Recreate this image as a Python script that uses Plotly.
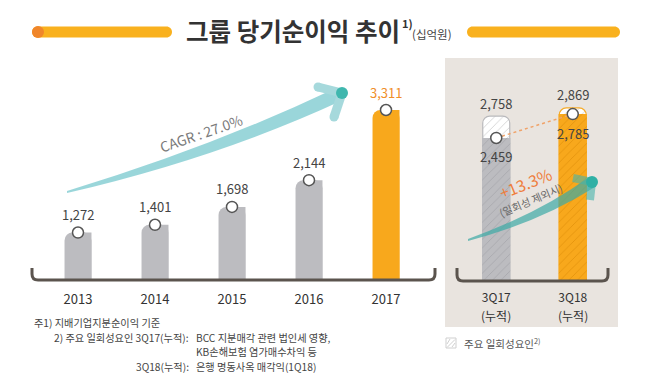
import plotly.graph_objects as go

# ---------------- data ----------------
years = ['2013', '2014', '2015', '2016', '2017']
net_income = [1272, 1401, 1698, 2144, 3311]
periods = ['3Q17', '3Q18']
period_sub = ['(누적)', '(누적)']
incl_one_off = [2758, 2869]
excl_one_off = [2459, 2785]
cagr_label = 'CAGR : 27.0%'
growth_label = '+13.3%'
growth_note = '(일회성 제외시)'
title_text = '그룹 당기순이익 추이'
unit_text = '(십억원)'
legend_text = '주요 일회성요인<sup>2)</sup>'

W, H = 650, 384
FONT = 'Noto Sans CJK KR, Noto Sans, sans-serif'
GRAY = '#bcbcc0'
ORANGE = '#f8a81c'
period_fill = [GRAY, ORANGE]
period_hatch = ['#a9a9ae', '#e5950f']
period_edge = ['#b9b9bc', '#f5ab2a']


def X(x):
    return x / W


def Y(y):
    return 1 - y / H


def path(cmds):
    out = []
    for c in cmds:
        op, vals = c[0], c[1:]
        pts = []
        for i in range(0, len(vals), 2):
            pts.append(f'{X(vals[i]):.5f},{Y(vals[i+1]):.5f}')
        out.append(op + ' ' + ' '.join(pts))
    return ' '.join(out)


def rrect(x0, y0, x1, y1, r):
    k = 0.5523 * r
    return path([
        ('M', x0 + r, y0), ('L', x1 - r, y0),
        ('C', x1 - r + k, y0, x1, y0 + r - k, x1, y0 + r),
        ('C', x1, y1 - r + k, x1 - r + k, y1, x1 - r, y1),
        ('L', x0 + r, y1),
        ('C', x0 + r - k, y1, x0, y1 - r + k, x0, y1 - r),
        ('C', x0, y0 + r - k, x0 + r - k, y0, x0 + r, y0),
    ]) + ' Z'


fig = go.Figure()

# ---------------- left chart ----------------
left_colors = [ORANGE if i == len(years) - 1 else GRAY for i in range(len(years))]
fig.add_trace(go.Bar(x=years, y=net_income, width=0.35, marker=dict(color=left_colors, cornerradius=8, line=dict(width=0)),
                     xaxis='x', yaxis='y', showlegend=False, hoverinfo='skip'))
fig.add_trace(go.Bar(x=years, y=net_income, width=0.175, offset=0, marker=dict(color=left_colors, line=dict(width=0)),
                     xaxis='x', yaxis='y', showlegend=False, hoverinfo='skip'))
fig.add_trace(go.Scatter(x=years, y=net_income, mode='markers',
                         marker=dict(size=11, color='white', line=dict(color='#555555', width=1.5)),
                         xaxis='x', yaxis='y', showlegend=False, hoverinfo='skip'))

# ---------------- right chart ----------------
for i, p in enumerate(periods):
    fig.add_trace(go.Bar(x=[p], y=[incl_one_off[i]], width=0.353,
                         marker=dict(color='white', cornerradius=7,
                                     line=dict(color=period_edge[i], width=1.2),
                                     pattern=dict(shape='/', fgcolor='#c9c9c9', bgcolor='white', size=6,
                                                  solidity=0.12, fillmode='replace')),
                         xaxis='x2', yaxis='y2', showlegend=False, hoverinfo='skip'))
for i, p in enumerate(periods):
    fig.add_trace(go.Bar(x=[p], y=[excl_one_off[i]], width=0.37,
                         marker=dict(color=period_fill[i], line=dict(width=0),
                                     pattern=dict(shape='/', fgcolor=period_hatch[i], bgcolor=period_fill[i],
                                                  size=6, solidity=0.15, fillmode='replace')),
                         xaxis='x2', yaxis='y2', showlegend=False, hoverinfo='skip'))
fig.add_trace(go.Scatter(x=periods, y=excl_one_off, mode='lines',
                         line=dict(color='#f0a36a', width=1.5, dash='dot'),
                         xaxis='x2', yaxis='y2', showlegend=False, hoverinfo='skip'))
fig.add_trace(go.Scatter(x=periods, y=excl_one_off, mode='markers',
                         marker=dict(size=11, color='white', line=dict(color='#555555', width=1.5)),
                         xaxis='x2', yaxis='y2', showlegend=False, hoverinfo='skip'))

annotations = []
for i, v in enumerate(net_income):
    annotations.append(dict(x=i, y=v, xref='x', yref='y', text=f'{v:,}', showarrow=False, yshift=18,
                            font=dict(family=FONT, size=13, color='#f08f2a' if i == len(years) - 1 else '#444444')))
for i, (a, b) in enumerate(zip(incl_one_off, excl_one_off)):
    annotations.append(dict(x=i, y=a, xref='x2', yref='y2', text=f'{a:,}', showarrow=False, yshift=13,
                            font=dict(family=FONT, size=13, color='#444444')))
    annotations.append(dict(x=i, y=b, xref='x2', yref='y2', text=f'{b:,}', showarrow=False, yshift=-19,
                            font=dict(family=FONT, size=13, color='#444444')))
for i, s in enumerate(period_sub):
    annotations.append(dict(x=i, y=Y(315), xref='x2', yref='paper', text=s, showarrow=False,
                            yanchor='middle', font=dict(family=FONT, size=12, color='#333333')))


def ann(x, y, text, size, color, xanchor='left', yanchor='middle', angle=0):
    annotations.append(dict(x=X(x), y=Y(y), xref='paper', yref='paper', text=text, showarrow=False,
                            xanchor=xanchor, yanchor=yanchor, textangle=angle,
                            font=dict(family=FONT, size=size, color=color)))


# title
ann(292.5, 31, f'<b>{title_text}</b>', 24.5, '#333333', xanchor='center')
ann(400, 23, '<b>1)</b>', 11, '#333333')
ann(410, 34, unit_text, 11.5, '#444444')

# arrows' labels
ann(201, 133, cagr_label, 14, '#7a7a7a', xanchor='center', angle=-19)
ann(525, 183, growth_label, 16, '#ef7d3c', xanchor='center', angle=-22)
ann(530, 200, growth_note, 10.5, '#666666', xanchor='center', angle=-23)

# footnotes
FN = '#444444'
FS = 10.2
ann(32, 322.5, '주1) 지배기업지분순이익 기준', FS, FN)
ann(191, 337.5, '2) 주요 일회성요인 3Q17(누적):', FS, FN, xanchor='right')
ann(194, 337.5, 'BCC 지분매각 관련 법인세 영향,', FS, FN)
ann(194, 351.5, 'KB손해보험 염가매수차익 등', FS, FN)
ann(191, 366, '3Q18(누적):', FS, FN, xanchor='right')
ann(194, 366, '은행 명동사옥 매각익(1Q18)', FS, FN)

# legend text
ann(462, 343, legend_text, 10.5, '#555555')

shapes = []
# right panel background
shapes.append(dict(type='rect', xref='paper', yref='paper', x0=X(445), x1=X(618), y0=Y(327), y1=Y(58),
                   fillcolor='#e9e4df', line=dict(width=0), layer='below'))
# title bars
shapes.append(dict(type='path', xref='paper', yref='paper', path=rrect(32, 26.5, 172, 37.5, 5.5),
                   fillcolor='#f9b11e', line=dict(width=0)))
shapes.append(dict(type='circle', xref='paper', yref='paper', x0=X(32), x1=X(44), y0=Y(38), y1=Y(26),
                   fillcolor='#f0862a', line=dict(width=0)))
shapes.append(dict(type='path', xref='paper', yref='paper', path=rrect(467, 26.5, 620, 37.5, 5.5),
                   fillcolor='#f9b11e', line=dict(width=0)))

# brackets
BR = '#5b544e'
shapes.append(dict(type='path', xref='paper', yref='paper', line=dict(color=BR, width=3),
                   path=path([('M', 32, 268), ('L', 32, 274), ('Q', 32, 280, 38, 280), ('L', 429, 280),
                              ('Q', 435, 280, 435, 274), ('L', 435, 268)])))
shapes.append(dict(type='path', xref='paper', yref='paper', line=dict(color=BR, width=3),
                   path=path([('M', 457, 268), ('L', 457, 275), ('Q', 457, 281, 463, 281), ('L', 602, 281),
                              ('Q', 608, 281, 608, 275), ('L', 608, 268)])))

# CAGR arrow
TL = '#a6d9dc'
shapes.append(dict(type='path', xref='paper', yref='paper', fillcolor='rgba(120,200,205,0.75)', line=dict(width=0),
                   path=path([('M', 67, 191), ('Q', 212, 147, 336, 88), ('L', 343, 100), ('Q', 218, 158, 67, 193)]) + ' Z'))
for (xa, ya) in [(318, 87), (334, 117)]:
    shapes.append(dict(type='line', xref='paper', yref='paper', x0=X(342), y0=Y(93), x1=X(xa), y1=Y(ya),
                       line=dict(color=TL, width=9)))
    shapes.append(dict(type='circle', xref='paper', yref='paper', x0=X(xa - 4.5), x1=X(xa + 4.5),
                       y0=Y(ya + 4.5), y1=Y(ya - 4.5), fillcolor=TL, line=dict(width=0)))
shapes.append(dict(type='circle', xref='paper', yref='paper', x0=X(336), x1=X(348), y0=Y(99), y1=Y(87),
                   fillcolor='#3fb7ae', line=dict(width=0)))

# right arrow
RT = 'rgba(60,170,165,0.7)'
shapes.append(dict(type='path', xref='paper', yref='paper', fillcolor=RT, line=dict(width=0),
                   path=path([('M', 468, 239), ('Q', 540, 213, 589, 177), ('L', 595, 187), ('Q', 540, 222, 468, 241)]) + ' Z'))
RA = 'rgba(70,180,172,0.6)'
for (xa, ya) in [(573, 178), (590, 200)]:
    shapes.append(dict(type='line', xref='paper', yref='paper', x0=X(592), y0=Y(182), x1=X(xa), y1=Y(ya),
                       line=dict(color=RA, width=8)))
shapes.append(dict(type='circle', xref='paper', yref='paper', x0=X(586), x1=X(598), y0=Y(188), y1=Y(176),
                   fillcolor='#2fb0a5', line=dict(width=0)))

# legend swatch
shapes.append(dict(type='rect', xref='paper', yref='paper', x0=X(446), x1=X(456), y0=Y(348), y1=Y(338),
                   fillcolor='white', line=dict(color='#cfcfcf', width=1)))
for d in [(447, 344, 450, 339), (447, 347.5, 455, 339.5), (452, 347, 455, 343)]:
    shapes.append(dict(type='line', xref='paper', yref='paper', x0=X(d[0]), y0=Y(d[1]), x1=X(d[2]), y1=Y(d[3]),
                       line=dict(color='#d0d0d0', width=1)))

fig.update_layout(
    width=W, height=H, margin=dict(l=0, r=0, t=0, b=0),
    paper_bgcolor='white', plot_bgcolor='rgba(0,0,0,0)',
    barmode='overlay', showlegend=False,
    font=dict(family=FONT, color='#333333'),
    xaxis=dict(domain=[X(39.5), X(424.5)], type='category', range=[-0.5, 4.5], showgrid=False, zeroline=False,
               showline=False, ticks='', ticklabelstandoff=10, tickfont=dict(family=FONT, size=13, color='#333333'),
               anchor='y', fixedrange=True),
    yaxis=dict(domain=[Y(280), Y(60)], range=[482, 4143], visible=False, anchor='x', fixedrange=True),
    xaxis2=dict(domain=[X(458), X(611)], type='category', range=[-0.5, 1.5], showgrid=False, zeroline=False,
                showline=False, ticks='', ticklabelstandoff=9,
                tickfont=dict(family=FONT, size=12, color='#333333'), anchor='y2', fixedrange=True),
    yaxis2=dict(domain=[Y(280), Y(60)], range=[519, 3524], visible=False, anchor='x2', fixedrange=True),
    annotations=annotations, shapes=shapes,
)

fig.write_html('out.html', config={'displayModeBar': False},
               post_script="document.body.style.margin='0';document.body.style.padding='0';")
